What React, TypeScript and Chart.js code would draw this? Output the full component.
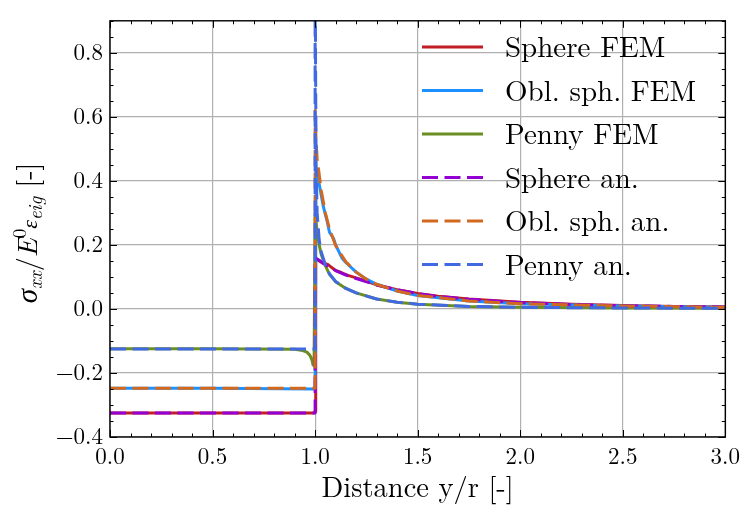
import React, { useEffect, useRef } from "react";
import { Chart, registerables } from "chart.js";

Chart.register(...registerables);

// ---------- data ----------
const xSphereFem = [0, 0.5, 0.995, 1.0, 1.003, 1.02, 1.04, 1.06, 1.08, 1.1, 1.13, 1.16, 1.2, 1.25, 1.3, 1.4, 1.5, 1.6, 1.75, 2.0, 2.25, 2.5, 2.75, 3.0];
const ySphereFem = [-0.325, -0.325, -0.325, -0.32, 0.158, 0.15, 0.142, 0.14, 0.13, 0.12, 0.113, 0.105, 0.097, 0.087, 0.075, 0.06, 0.048, 0.04, 0.031, 0.021, 0.015, 0.011, 0.008, 0.006];

const xOblFem = [0, 0.5, 0.997, 1.0, 1.005, 1.02, 1.04, 1.06, 1.07, 1.09, 1.1, 1.13, 1.15, 1.2, 1.25, 1.3, 1.4, 1.5, 1.75, 2.0, 2.5, 3.0];
const yOblFem = [-0.248, -0.248, -0.25, -0.25, 0.43, 0.39, 0.32, 0.27, 0.24, 0.22, 0.2, 0.16, 0.145, 0.115, 0.093, 0.077, 0.056, 0.042, 0.025, 0.016, 0.009, 0.005];

const xPennyFem = [0, 0.5, 0.9, 0.94, 0.96, 0.975, 0.985, 0.99, 0.995, 1.0, 1.01, 1.02, 1.03, 1.05, 1.07, 1.1, 1.15, 1.2, 1.3, 1.4, 1.5, 1.75, 2.0, 2.5, 3.0];
const yPennyFem = [-0.124, -0.124, -0.126, -0.13, -0.135, -0.145, -0.16, -0.175, -0.175, 0.3, 0.24, 0.2, 0.17, 0.135, 0.108, 0.085, 0.064, 0.05, 0.031, 0.021, 0.015, 0.008, 0.005, 0.003, 0.002];

const xSphereAn = [0, 1.0, 1.0, 1.02, 1.05, 1.1, 1.15, 1.2, 1.3, 1.4, 1.5, 1.6, 1.75, 2.0, 2.25, 2.5, 2.75, 3.0];
const ySphereAn = [-0.325, -0.325, 0.16, 0.152, 0.138, 0.12, 0.106, 0.095, 0.075, 0.06, 0.048, 0.039, 0.03, 0.02, 0.014, 0.01, 0.008, 0.006];

const xOblAn = [0, 1.0, 1.0, 1.005, 1.01, 1.02, 1.03, 1.05, 1.07, 1.1, 1.15, 1.2, 1.25, 1.3, 1.4, 1.5, 1.75, 2.0, 2.5, 3.0];
const yOblAn = [-0.248, -0.248, 0.62, 0.52, 0.47, 0.42, 0.37, 0.3, 0.25, 0.198, 0.147, 0.115, 0.093, 0.077, 0.056, 0.042, 0.025, 0.016, 0.009, 0.005];

const xPennyAn = [0, 1.0, 1.0, 1.002, 1.005, 1.01, 1.02, 1.03, 1.05, 1.07, 1.1, 1.15, 1.2, 1.3, 1.4, 1.5, 1.75, 2.0, 2.5, 3.0];
const yPennyAn = [-0.125, -0.125, 1.5, 0.8, 0.45, 0.3, 0.215, 0.178, 0.138, 0.11, 0.086, 0.064, 0.05, 0.031, 0.021, 0.015, 0.008, 0.005, 0.003, 0.002];

const seriesLabels = ["Sphere FEM", "Obl. sph. FEM", "Penny FEM", "Sphere an.", "Obl. sph. an.", "Penny an."];
const seriesColors = ["#c21c24", "#1e90ff", "#6b8e23", "#9400d3", "#d2691e", "#4169e1"];

const xTicks = [0, 0.5, 1.0, 1.5, 2.0, 2.5, 3.0];
const yTicks = [-0.4, -0.2, 0.0, 0.2, 0.4, 0.6, 0.8];
const xMinorStep = 0.1;
const yMinorStep = 0.05;

const xTitle = "Distance y/r [-]";

const FONT = '"Latin Modern Roman", "Liberation Serif", serif';
const GREEK_FONT = '"Liberation Serif", serif';

const fmt = (v: number) => (v < -1e-9 ? "\u2212" : "") + Math.abs(v).toFixed(1);

const pts = (xs: number[], ys: number[]) => xs.map((x, i) => ({ x, y: ys[i] }));

const DASH = [16, 6.5];

const framePlugin = {
  id: "frameTicks",
  afterDraw(chart: any) {
    const { ctx, chartArea } = chart;
    const { left, right, top, bottom } = chartArea;
    const xs = chart.scales.x;
    const ys = chart.scales.y;
    ctx.save();
    ctx.strokeStyle = "#000";
    ctx.lineWidth = 1;
    const xmin = xs.min, xmax = xs.max, ymin = ys.min, ymax = ys.max;
    ctx.beginPath();
    for (let k = 0; xmin + k * xMinorStep <= xmax + 1e-9; k++) {
      const px = Math.round(xs.getPixelForValue(xmin + k * xMinorStep)) + 0.5;
      ctx.moveTo(px, bottom); ctx.lineTo(px, bottom - 3.5);
      ctx.moveTo(px, top); ctx.lineTo(px, top + 3.5);
    }
    for (let k = 0; ymin + k * yMinorStep <= ymax + 1e-9; k++) {
      const py = Math.round(ys.getPixelForValue(ymin + k * yMinorStep)) + 0.5;
      ctx.moveTo(left, py); ctx.lineTo(left + 3.5, py);
      ctx.moveTo(right, py); ctx.lineTo(right - 3.5, py);
    }
    ctx.stroke();
    ctx.beginPath();
    xTicks.forEach((v) => {
      const px = Math.round(xs.getPixelForValue(v)) + 0.5;
      ctx.moveTo(px, bottom); ctx.lineTo(px, bottom - 7);
      ctx.moveTo(px, top); ctx.lineTo(px, top + 7);
    });
    yTicks.forEach((v) => {
      const py = Math.round(ys.getPixelForValue(v)) + 0.5;
      ctx.moveTo(left, py); ctx.lineTo(left + 7, py);
      ctx.moveTo(right, py); ctx.lineTo(right - 7, py);
    });
    ctx.stroke();
    ctx.lineWidth = 1.4;
    ctx.strokeRect(left, top, right - left, bottom - top);
    ctx.restore();
  },
};

const titlePlugin = {
  id: "axisTitles",
  afterDraw(chart: any) {
    const { ctx, chartArea } = chart;
    ctx.save();
    ctx.fillStyle = "#000";
    ctx.font = `28.5px ${FONT}`;
    ctx.textAlign = "center";
    ctx.textBaseline = "alphabetic";
    ctx.fillText(xTitle, (chartArea.left + chartArea.right) / 2, 497);

    const parts = [
      { t: "σ", size: 29, italic: true, dy: 0, fam: GREEK_FONT },
      { t: "xx", size: 19, italic: true, dy: 5, fam: FONT },
      { t: "/", size: 28, italic: false, dy: 0, fam: FONT },
      { t: "E", size: 28, italic: true, dy: 0, fam: FONT },
      { t: "0", size: 19, italic: false, dy: -11, fam: FONT },
      { t: "ε", size: 22, italic: true, dy: 0, fam: GREEK_FONT },
      { t: "eig", size: 19, italic: true, dy: 5, fam: FONT },
      { t: " [-]", size: 28, italic: false, dy: 0, fam: FONT },
    ];
    const setFont = (p: any) => (ctx.font = `${p.italic ? "italic " : ""}${p.size}px ${p.fam}`);
    let total = 0;
    const widths = parts.map((p) => {
      setFont(p);
      const w = ctx.measureText(p.t).width;
      total += w;
      return w;
    });
    const cy = (chartArea.top + chartArea.bottom) / 2 + 4;
    ctx.translate(37, cy);
    ctx.rotate(-Math.PI / 2);
    ctx.textAlign = "left";
    let u = -total / 2;
    parts.forEach((p, i) => {
      setFont(p);
      ctx.fillText(p.t, u, p.dy);
      u += widths[i];
    });
    ctx.restore();
  },
};

const legendPlugin = {
  id: "insideLegend",
  afterDraw(chart: any) {
    const { ctx } = chart;
    ctx.save();
    chart.data.datasets.forEach((ds: any, i: number) => {
      const y = 47 + i * 43.5;
      ctx.strokeStyle = ds.borderColor;
      ctx.lineWidth = ds.borderWidth;
      ctx.setLineDash(ds.borderDash || []);
      ctx.beginPath();
      ctx.moveTo(422, y);
      ctx.lineTo(483, y);
      ctx.stroke();
      ctx.setLineDash([]);
      ctx.fillStyle = "#000";
      ctx.font = `29px ${FONT}`;
      ctx.textAlign = "left";
      ctx.textBaseline = "alphabetic";
      ctx.fillText(ds.label, 505, y + 10);
    });
    ctx.restore();
  },
};

export default function App() {
  const ref = useRef<HTMLCanvasElement | null>(null);
  useEffect(() => {
    document.body.style.margin = "0";
    const canvas = ref.current!;
    const xsArr = [xSphereFem, xOblFem, xPennyFem, xSphereAn, xOblAn, xPennyAn];
    const ysArr = [ySphereFem, yOblFem, yPennyFem, ySphereAn, yOblAn, yPennyAn];
    const datasets = seriesLabels.map((label, i) => ({
      label,
      data: pts(xsArr[i], ysArr[i]),
      borderColor: seriesColors[i],
      backgroundColor: seriesColors[i],
      borderWidth: 3,
      borderDash: i >= 3 ? DASH : [],
      pointRadius: 0,
      tension: 0,
      fill: false,
      order: 6 - i,
      borderJoinStyle: "round" as const,
    }));
    const chart = new Chart(canvas, {
      type: "line",
      data: { datasets },
      options: {
        animation: false,
        responsive: false,
        devicePixelRatio: 1,
        parsing: false as any,
        layout: { padding: { left: 0, top: 8, right: 19, bottom: 0 } },
        plugins: { legend: { display: false }, tooltip: { enabled: false } },
        scales: {
          x: {
            type: "linear",
            min: 0,
            max: 3,
            afterBuildTicks: (s: any) => { s.ticks = xTicks.map((v) => ({ value: v })); },
            afterFit: (s: any) => { s.height = 75; },
            ticks: {
              callback: (v: any) => fmt(Number(v)),
              font: { family: FONT, size: 23 },
              color: "#000",
              padding: 6,
              maxRotation: 0,
              autoSkip: false,
            },
            grid: { color: "#b0b0b0", lineWidth: 1.2, drawTicks: false },
            border: { display: false },
          },
          y: {
            type: "linear",
            min: -0.4,
            max: 0.9,
            afterBuildTicks: (s: any) => { s.ticks = yTicks.map((v) => ({ value: v })); },
            afterFit: (s: any) => { s.width = 110; },
            ticks: {
              callback: (v: any) => fmt(Number(v)),
              font: { family: FONT, size: 23 },
              color: "#000",
              padding: 7,
              autoSkip: false,
            },
            grid: { color: "#b0b0b0", lineWidth: 1.2, drawTicks: false },
            border: { display: false },
          },
        },
      },
      plugins: [framePlugin, titlePlugin, legendPlugin],
    });
    return () => chart.destroy();
  }, []);
  return (
    <div style={{ width: 746, height: 512 }}>
      <canvas ref={ref} width={746} height={512} style={{ display: "block" }} />
    </div>
  );
}
